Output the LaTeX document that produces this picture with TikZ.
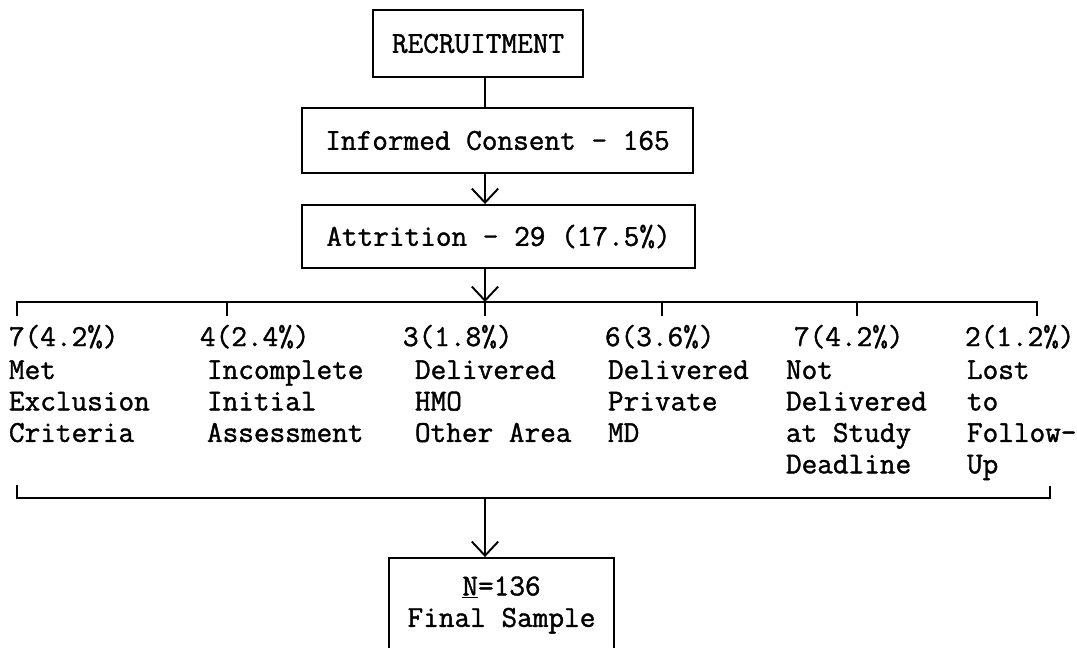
\documentclass[tikz,border=0pt]{standalone}
\usepackage{fontspec}
\newfontfamily\typer{Latin Modern Mono}[FakeBold=1.3]
\usetikzlibrary{arrows.meta}

\begin{document}
\begin{tikzpicture}[x=0.02cm, y=-0.02cm, >={Straight Barb[length=8pt,width=15pt]}, line width=1.1pt, every node/.style={font=\typer\fontsize{17.3}{17.9}\selectfont, inner sep=0pt}, stagebox/.style={draw, align=center}, cnt/.style={anchor=base west}, reason/.style={anchor=north west, align=left}]
\useasboundingbox (0,0) rectangle (1077,647);
\coordinate (spine) at (485,0); \coordinate (topbar) at (485,302); \coordinate (botbar) at (485,498);
% main column
\node[stagebox, minimum width=4.2cm, minimum height=1.34cm] (rec) at (478,43.5) {RECRUITMENT};
\node[stagebox, minimum width=7.82cm, minimum height=1.3cm] (inf) at (497.5,140.5) {Informed Consent - 165};
\node[stagebox, minimum width=7.86cm, minimum height=1.26cm] (att) at (498.5,236.5) {Attrition - 29 (17.5\%)};
\node[stagebox, minimum width=4.5cm, minimum height=1.88cm] (fin) at (501.5,605) {\underline{N}=136\\Final Sample};
\draw (rec.south -| spine) -- (inf.north -| spine);
\draw[->] (inf.south -| spine) -- (att.north -| spine);
\draw[->] (att.south -| spine) -- (topbar);
% reasons for attrition
\draw (17,316) -- (17,302) -- (1037,302) -- (1037,316);
\foreach \x in {227,485,662,857} \draw (\x,302) -- (\x,316);
\node[cnt] (c1) at (8,346) {7(4.2\%)}; \node[reason] (r1) at (8,356) {\strut Met\\Exclusion\\Criteria};
\node[cnt] (c2) at (199,346) {4(2.4\%)}; \node[reason] (r2) at (206,356) {\strut Incomplete\\Initial\\Assessment};
\node[cnt] (c3) at (402,346) {3(1.8\%)}; \node[reason] (r3) at (414,356) {\strut Delivered\\HMO\\Other Area};
\node[cnt] (c4) at (604,346) {6(3.6\%)}; \node[reason] (r4) at (607,356) {\strut Delivered\\Private\\MD};
\node[cnt] (c5) at (793,346) {7(4.2\%)}; \node[reason] (r5) at (785,356) {\strut Not\\Delivered\\at Study\\Deadline};
\node[cnt] (c6) at (964,346) {2(1.2\%)}; \node[reason] (r6) at (966,356) {\strut Lost\\to\\Follow-\\Up};
\draw (17,485) -- (17,498) -- (1050,498) -- (1050,486);
\draw[->] (botbar) -- (fin.north -| spine);
\end{tikzpicture}
\end{document}
